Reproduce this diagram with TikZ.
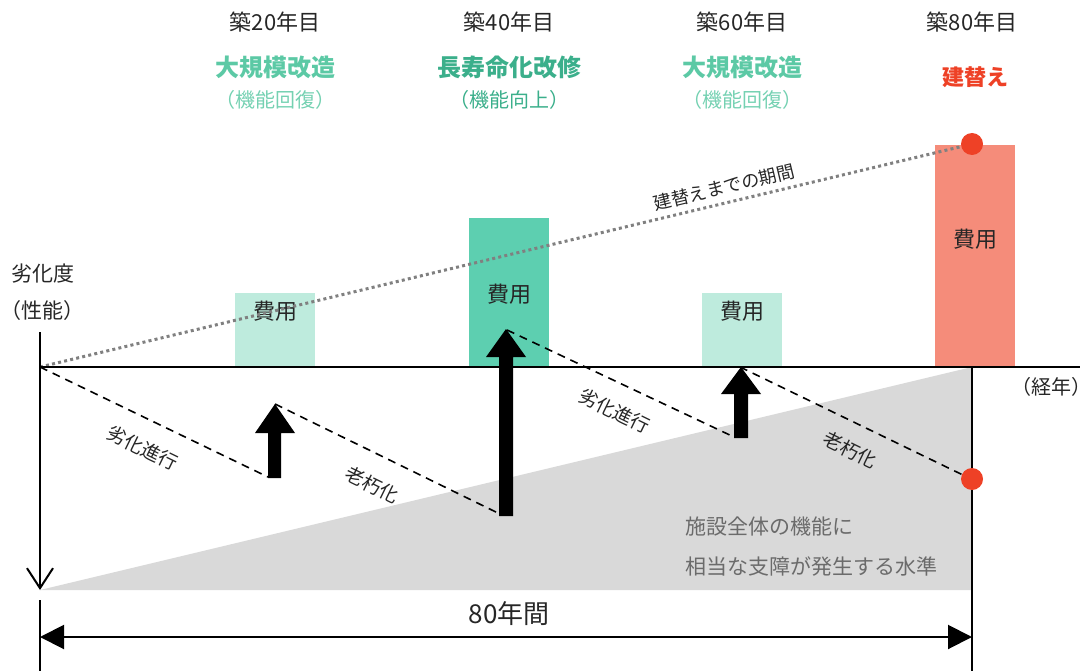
\documentclass[tikz,border=0pt]{standalone}
\usepackage{fontspec}
\setmainfont{Noto Sans CJK JP}
\usetikzlibrary{arrows.meta}
\definecolor{mintL}{HTML}{BEEBDD}
\definecolor{mintM}{HTML}{5DCFB0}
\definecolor{salmon}{HTML}{F58C7A}
\definecolor{redD}{HTML}{EE4126}
\definecolor{grnT}{HTML}{5CC9A5}
\definecolor{grnD}{HTML}{3BAF8B}
\definecolor{grayF}{HTML}{D9D9D9}
\definecolor{grayT}{HTML}{6B6B6B}
\definecolor{dotG}{HTML}{808080}
\tikzset{
  yr/.style={font=\fontsize{22}{24}\selectfont, text=black!85},
  work/.style={font=\bfseries\fontsize{24}{26}\selectfont},
  sub/.style={font=\fontsize{20}{22}\selectfont},
  cost/.style={font=\fontsize{22}{24}\selectfont, text=black!85},
  lbl/.style={font=\fontsize{19}{21}\selectfont, text=black!85},
  axl/.style={font=\fontsize{21}{23}\selectfont, text=black!85},
  dsh/.style={line width=1.6pt, dash pattern=on 8pt off 6pt},
  dtt/.style={line width=3pt, dotG, dash pattern=on 3pt off 3.2pt},
  bigarrow/.style={fill=black},
}
\begin{document}
\begin{tikzpicture}[x=1pt,y=-1pt]
\useasboundingbox (0,0) rectangle (1086,671);
% gray region
\fill[grayF] (40,590) -- (972,367) -- (972,590) -- cycle;
% bars
\fill[mintL] (235,293) rectangle (315,367);
\fill[mintM] (469,218) rectangle (549,367);
\fill[mintL] (702,293) rectangle (782,367);
\fill[salmon] (935,145) rectangle (1015,367);
\node[cost] (c1) at (275,311) {費用};
\node[cost] (c2) at (509,294) {費用};
\node[cost] (c3) at (742,311) {費用};
\node[cost] (c4) at (975,239) {費用};
% coordinates
\coordinate (O) at (40,367);
\coordinate (Ax) at (1080,367);
\coordinate (Atop) at (40,332);
\coordinate (Abot) at (40,590);
\coordinate (R80) at (972,144);
\coordinate (D80) at (972,479);
% dotted line
\draw[dtt] (O) -- (R80);
\node[lbl, font=\fontsize{18}{20}\selectfont, rotate=13.5] (period) at (724,187) {建替えまでの期間};
% axes
\draw[line width=2pt] (O) -- (Ax);
\draw[line width=2pt, -{Straight Barb[length=20pt,width=26pt,line width=2pt]}] (Atop) -- (Abot);
\draw[line width=2pt] (40,600) -- (40,671);
\draw[line width=2pt] (972,367) -- (972,671);
% dashed lines
\coordinate (d1a) at (40,367); \coordinate (d1b) at (268,477);
\coordinate (d2a) at (275,404); \coordinate (d2b) at (502,515);
\coordinate (d3a) at (507,330); \coordinate (d3b) at (734,437);
\coordinate (d4a) at (740,367); \coordinate (d4b) at (965,476);
\draw[dsh] (d1a) -- (d1b);
\draw[dsh] (d2a) -- (d2b);
\draw[dsh] (d3a) -- (d3b);
\draw[dsh] (d4a) -- (d4b);
\node[lbl, rotate=-26] (l1) at (143,448) {劣化進行};
\node[lbl, rotate=-26] (l2) at (372,485) {老朽化};
\node[lbl, rotate=-26] (l3) at (615,411) {劣化進行};
\node[lbl, rotate=-26] (l4) at (850,450) {老朽化};
% thick arrows
\fill[bigarrow] (268,478) -- (281,478) -- (281,433) -- (295,433) -- (275,404) -- (255,433) -- (268,433) -- cycle;
\fill[bigarrow] (499,516) -- (513,516) -- (513,357) -- (526,357) -- (506,329) -- (486,357) -- (499,357) -- cycle;
\fill[bigarrow] (734,438) -- (748,438) -- (748,394) -- (761,394) -- (741,367) -- (721,394) -- (734,394) -- cycle;
% red dots
\fill[redD] (R80) circle (11);
\fill[redD] (D80) circle (11);
% dimension
\coordinate (m1) at (40,637);
\coordinate (m2) at (972,637);
\draw[line width=2pt, {Triangle[length=24pt,width=24pt]}-{Triangle[length=24pt,width=24pt]}] (m1) -- (m2);
\node[font=\fontsize{26}{28}\selectfont, text=black!85] (yrs) at (509,614) {80年間};
% axis labels
\node[axl] (deg) at (43,274) {劣化度};
\node[axl] (perf) at (42,311) {（性能）};
\node[axl, font=\fontsize{20}{22}\selectfont, inner sep=0pt] (time) at (1051,387) {（経年）};
% gray text
\node[anchor=west, text=grayT, font=\fontsize{21}{23}\selectfont, inner sep=0] (g1) at (685,527) {施設全体の機能に};
\node[anchor=west, text=grayT, font=\fontsize{21}{23}\selectfont, inner sep=0] (g2) at (685,567) {相当な支障が発生する水準};
% top texts
\node[yr] (y20) at (275,22) {築20年目};
\node[yr] (y40) at (509,22) {築40年目};
\node[yr] (y60) at (742,22) {築60年目};
\node[yr] (y80) at (972,22) {築80年目};
\node[work, text=grnT] (w20) at (275,67) {大規模改造};
\node[work, text=grnD] (w40) at (509,67) {長寿命化改修};
\node[work, text=grnT] (w60) at (742,67) {大規模改造};
\node[work, font=\bfseries\fontsize{22}{24}\selectfont, text=redD] (w80) at (975,77) {建替え};
\node[sub, text=grnT!85] (s20) at (275,100) {（機能回復）};
\node[sub, text=grnD] (s40) at (509,100) {（機能向上）};
\node[sub, text=grnT!85] (s60) at (742,100) {（機能回復）};
\end{tikzpicture}
\end{document}
